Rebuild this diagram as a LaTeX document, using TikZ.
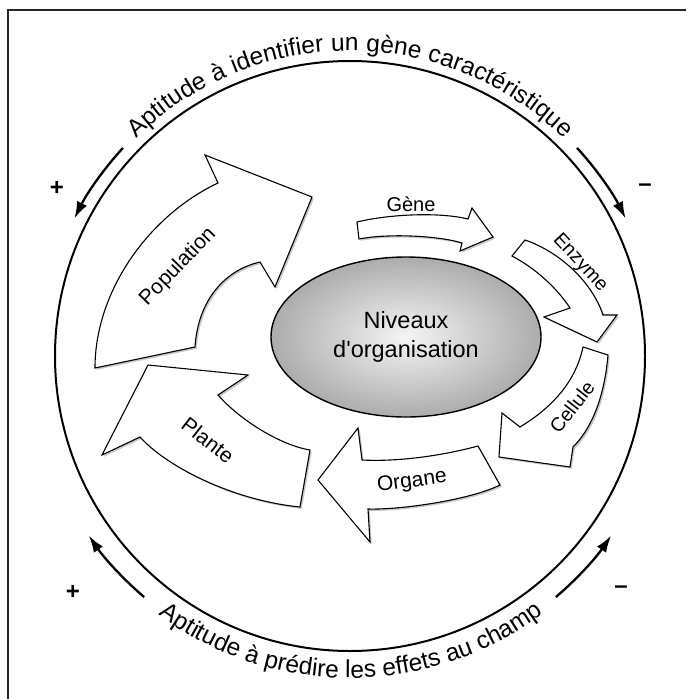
\documentclass[tikz,border=0pt]{standalone}
\usepackage{fontspec}
\setmainfont{Liberation Sans}
\usetikzlibrary{arrows.meta,decorations.text,shadows,shapes.geometric}
\newcommand\curvefont{\fontsize{24.5}{24.5}\selectfont}
\begin{document}
\begin{tikzpicture}[x=1pt,y=-1pt,
  blockarrow/.style={draw=black, line width=1.1pt, fill=white, line join=miter,
    drop shadow={shadow xshift=1.8pt, shadow yshift=-1.8pt, fill=gray!60, opacity=0.7}},
  lbl/.style={font=\fontsize{21}{21}\selectfont, inner sep=0pt},
  sidearrow/.style={line width=2.3pt, -{Latex[length=17pt,width=11pt]}},
  sign/.style={font=\fontsize{24}{24}\selectfont\bfseries, inner sep=0pt}]
\useasboundingbox (0,0) rectangle (686,699);
% frame
\coordinate (fbl) at (8,699);
\coordinate (ftl) at (8,10);
\coordinate (ftr) at (686,10);
\draw[line width=1.3pt, black!85] (fbl) -- (ftl) -- (ftr);
% outer ring
\node[circle, draw, line width=2pt, minimum size=590pt, inner sep=0pt] (ring) at (350,356) {};
\begin{scope}[shift={(350,356)}]
  \coordinate (tlA) at (137.5:308pt);
  \coordinate (trA) at (42.5:308pt);
  \coordinate (blA) at (229.5:317pt);
  \coordinate (brA) at (310.5:317pt);
  \draw[sidearrow] (tlA) arc[start angle=137.5, end angle=153.5, radius=308pt];
  \draw[sidearrow] (trA) arc[start angle=42.5, end angle=26.5, radius=308pt];
  \draw[sidearrow] (blA) arc[start angle=229.5, end angle=214.5, radius=317pt];
  \draw[sidearrow] (brA) arc[start angle=310.5, end angle=325.5, radius=317pt];
  \path[decorate, decoration={text along path,
      text={|\curvefont|Aptitude à identifier un gène caractéristique},
      text align={fit to path stretching spaces}}]
    (134.5:305pt) arc[start angle=134.5, end angle=45.5, radius=305pt];
  \path[decorate, decoration={text along path,
      text={|\curvefont|Aptitude à prédire les effets au champ},
      text align={fit to path stretching spaces}}]
    (233.5:322pt) arc[start angle=233.5, end angle=306.5, radius=322pt];
\end{scope}
\node[sign] (plusT) at (57,188) {+};
\node[sign] (minusT) at (645,188) {–};
\node[sign] (plusB) at (73,592) {+};
\node[sign] (minusB) at (621,590) {–};
% central ellipse
\node[ellipse, draw, line width=1.4pt, minimum width=270pt, minimum height=160pt,
  inner sep=0pt, shading=radial, inner color=gray!8, outer color=gray!65,
  align=center, font=\fontsize{23.5}{29}\selectfont] (core) at (406,337)
  {Niveaux\\d\textquotesingle organisation};
% block arrows
\draw[blockarrow] (95,368) .. controls (95,290) and (150,215) .. (218,183) -- (205,155) -- (312,197)
  -- (275,287) -- (260,262) .. controls (225,270) and (198,300) .. (195,347) -- cycle;
\draw[blockarrow] (248,375) -- (148,365) -- (102,455) -- (140,437) .. controls (165,465) and (230,500) .. (300,507)
  -- (310,450) .. controls (280,445) and (240,420) .. (218,395) -- cycle;
\draw[blockarrow] (318,480) -- (358,428) -- (362,460) .. controls (400,462) and (445,455) .. (478,446)
  -- (500,485) .. controls (470,500) and (400,510) .. (368,509) -- (370,542) -- cycle;
\draw[blockarrow] (583,347) -- (608,355) .. controls (605,390) and (595,425) .. (573,447) -- (570,467)
  -- (499,457) -- (502,413) -- (520,427) .. controls (548,410) and (575,385) .. (583,347) -- cycle;
\draw[blockarrow] (512,256) -- (525,240) .. controls (560,252) and (592,282) .. (603,315) -- (617,315)
  -- (597,342) -- (544,317) -- (570,308) .. controls (557,288) and (535,268) .. (512,256) -- cycle;
\draw[blockarrow] (357,222) .. controls (390,214) and (440,212) .. (468,219) -- (472,208) -- (493,237)
  -- (460,251) -- (462,243) .. controls (440,236) and (390,233) .. (359,239) -- cycle;
% labels
\node[lbl, rotate=46] (lPop) at (178,267) {Population};
\node[lbl, rotate=-38] (lPla) at (208,440) {Plante};
\node[lbl, rotate=8] (lOrg) at (412,482) {Organe};
\node[lbl, rotate=52, font=\fontsize{19.5}{19.5}\selectfont] (lCel) at (572,407) {Cellule};
\node[lbl, rotate=-47, font=\fontsize{19.5}{19.5}\selectfont] (lEnz) at (580,263) {Enzyme};
\node[lbl, font=\fontsize{20}{20}\selectfont] (lGen) at (411,204) {Gène};
\end{tikzpicture}
\end{document}
